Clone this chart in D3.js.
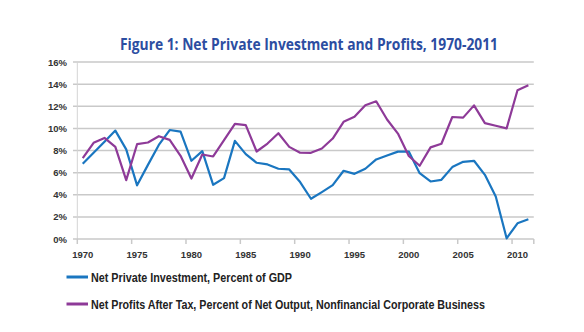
<!DOCTYPE html>
<html>
<head>
<meta charset="utf-8">
<script src="https://cdn.jsdelivr.net/npm/d3@7"></script>
<style>
  body { margin: 0; background: #fff; }
  svg { display: block; }
</style>
</head>
<body>
<div id="chart"></div>
<script>
// years on the category axis
const years = d3.range(1970, 2012);
const labelYears = [1970, 1975, 1980, 1985, 1990, 1995, 2000, 2005, 2010];
const yTicks = [0, 2, 4, 6, 8, 10, 12, 14, 16];

// Net private investment, percent of GDP
const investment = [
  6.8, 7.8, 8.8, 9.8, 8.1, 4.85, 6.7, 8.5, 9.85, 9.7,
  7.07, 7.94, 4.9, 5.5, 8.87, 7.67, 6.89, 6.74, 6.35, 6.29,
  5.15, 3.64, 4.24, 4.87, 6.17, 5.89, 6.35, 7.19, 7.55, 7.9,
  7.9, 5.95, 5.2, 5.35, 6.5, 6.98, 7.07, 5.8, 3.84, 0.06,
  1.42, 1.78
];

// Net profits after tax, percent of net output, nonfinancial corporate business
const profits = [
  7.31, 8.69, 9.14, 8.33, 5.32, 8.57, 8.72, 9.29, 8.96, 7.52,
  5.47, 7.64, 7.46, 8.93, 10.4, 10.29, 7.91, 8.63, 9.56, 8.33,
  7.8, 7.79, 8.18, 9.08, 10.59, 11.04, 12.09, 12.45, 10.8, 9.53,
  7.5, 6.62, 8.28, 8.61, 11.03, 10.97, 12.08, 10.48, 10.24, 10.0,
  13.44, 13.9
];

const seriesNames = [
  "Net Private Investment, Percent of GDP",
  "Net Profits After Tax, Percent of Net Output, Nonfinancial Corporate Business"
];
const colors = ["#1a76c0", "#8e3a98"];
// rendered widths of the legend labels (condensed face in the original)
const legendWidths = [201, 394];

const width = 584, height = 332;

const svg = d3.select("#chart").append("svg")
  .attr("width", width)
  .attr("height", height);

const x = d3.scaleBand().domain(years).range([77.3, 533.8]).padding(0);
const y = d3.scaleLinear().domain([0, 16]).range([239, 62]);

// title
svg.append("text")
  .attr("x", 309)
  .attr("y", 50)
  .attr("text-anchor", "middle")
  .attr("font-family", "'Open Sans', sans-serif")
  .attr("font-weight", 700)
  .attr("font-size", 16)
  .attr("fill", "#2c4da1")
  .attr("textLength", 378)
  .attr("lengthAdjust", "spacingAndGlyphs")
  .text("Figure 1: Net Private Investment and Profits, 1970-2011");

// gridlines
svg.append("g")
  .selectAll("line")
  .data(yTicks.filter(d => d > 0))
  .join("line")
  .attr("x1", 73)
  .attr("x2", x.range()[1])
  .attr("y1", d => y(d))
  .attr("y2", d => y(d))
  .attr("stroke", "#c9c9c9")
  .attr("stroke-width", 1.5);

// y axis line
svg.append("line")
  .attr("x1", x.range()[0]).attr("x2", x.range()[0])
  .attr("y1", y(16)).attr("y2", y(0))
  .attr("stroke", "#d4d4d4")
  .attr("stroke-width", 1);

// y labels
svg.append("g")
  .selectAll("text")
  .data(yTicks)
  .join("text")
  .attr("x", 67)
  .attr("y", d => y(d) + 3.5)
  .attr("text-anchor", "end")
  .attr("font-family", "'Liberation Sans', Arial, sans-serif")
  .attr("font-weight", 700)
  .attr("font-size", 9.5)
  .attr("fill", "#333")
  .text(d => d + "%");

// x axis baseline
svg.append("line")
  .attr("x1", 73).attr("x2", x.range()[1])
  .attr("y1", y(0)).attr("y2", y(0))
  .attr("stroke", "#c9c9c9")
  .attr("stroke-width", 1.5);

// x tick marks at category boundaries
const tickPos = labelYears.map(d => x(d)).concat([x.range()[1]]);
svg.append("g")
  .selectAll("line")
  .data(tickPos)
  .join("line")
  .attr("x1", d => d).attr("x2", d => d)
  .attr("y1", y(0)).attr("y2", y(0) + 5)
  .attr("stroke", "#c9c9c9")
  .attr("stroke-width", 1.5);

// x labels
const xAxis = svg.append("g")
  .attr("transform", `translate(0,${y(0) + 9})`)
  .call(d3.axisBottom(x).tickValues(labelYears).tickSize(0));
xAxis.select(".domain").remove();
xAxis.selectAll("text")
  .attr("font-family", "'Liberation Sans', Arial, sans-serif")
  .attr("font-weight", 700)
  .attr("font-size", 9.5)
  .attr("fill", "#333");

// lines
const line = d3.line()
  .x((d, i) => x(years[i]) + x.bandwidth() / 2)
  .y(d => y(d));

[investment, profits].forEach((s, i) => {
  svg.append("path")
    .datum(s)
    .attr("d", line)
    .attr("fill", "none")
    .attr("stroke", colors[i])
    .attr("stroke-width", 2.2)
    .attr("stroke-linejoin", "round");
});

// legend
const legend = svg.append("g")
  .selectAll("g")
  .data(seriesNames)
  .join("g")
  .attr("transform", (d, i) => `translate(0,${277 + i * 27})`);

legend.append("line")
  .attr("x1", 66.5).attr("x2", 88)
  .attr("y1", 0).attr("y2", 0)
  .attr("stroke", (d, i) => colors[i])
  .attr("stroke-width", 3);

legend.append("text")
  .attr("x", 91)
  .attr("y", 4.5)
  .attr("font-family", "'Liberation Sans', Arial, sans-serif")
  .attr("font-weight", 700)
  .attr("font-size", 12.5)
  .attr("fill", "#222")
  .attr("textLength", (d, i) => legendWidths[i])
  .attr("lengthAdjust", "spacingAndGlyphs")
  .text(d => d);
</script>
</body>
</html>
